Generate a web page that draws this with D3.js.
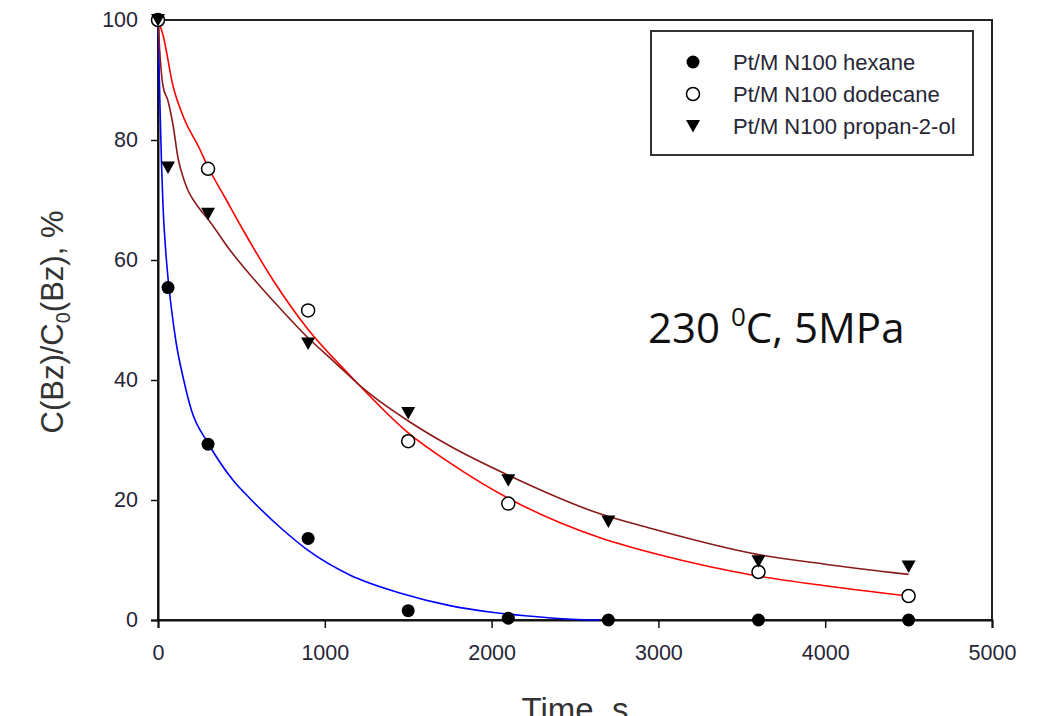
<!DOCTYPE html>
<html>
<head>
<meta charset="utf-8">
<script src="https://cdn.jsdelivr.net/npm/d3@7"></script>
<style>
  html, body { margin: 0; padding: 0; background: #fff; }
  svg { display: block; }
</style>
</head>
<body>
<svg id="chart" width="1039" height="716"></svg>
<script>
// Measured concentrations of benzene, % of initial, vs. time (s)
const hexaneTime     = [0, 60, 300, 900, 1500, 2100, 2700, 3600, 4500];
const hexaneConc     = [100, 55.4, 29.3, 13.6, 1.55, 0.3, 0, 0, 0];
const dodecaneTime   = [0, 300, 900, 1500, 2100, 3600, 4500];
const dodecaneConc   = [100, 75.2, 51.6, 29.8, 19.4, 8.0, 4.0];
const propanolTime   = [0, 60, 300, 900, 1500, 2100, 2700, 3600, 4500];
const propanolConc   = [100, 75.4, 67.7, 46.1, 34.5, 23.3, 16.4, 9.8, 8.9];

// Fitted kinetic curves, sampled along time
const hexaneFitTime  = [0, 10, 20, 30, 45, 60, 80, 110, 150, 200, 300, 450, 550, 750, 900, 1150, 1450, 1750, 2000, 2200, 2400, 2550, 2650];
const hexaneFitConc  = [100, 88, 77, 69, 62, 57, 52, 46, 40.5, 35, 29.5, 23.3, 20.3, 15, 11.6, 7.5, 4.5, 2.4, 1.3, 0.7, 0.25, 0.05, 0];
const dodecaneFitTime = [0, 30, 90, 150, 250, 300, 400, 500, 700, 900, 1150, 1500, 1750, 2100, 2650, 3000, 3600, 4000, 4500];
const dodecaneFitConc = [100, 97.5, 89, 84, 78.5, 75.5, 70.5, 65.5, 56.2, 48.4, 40.8, 31.2, 26.2, 20.3, 13.7, 10.9, 7.3, 5.7, 4.0];
const propanolFitTime = [0, 10, 30, 60, 90, 120, 160, 250, 300, 430, 600, 730, 890, 1050, 1230, 1510, 1750, 2110, 2650, 2950, 3600, 4000, 4500];
const propanolFitConc = [100, 95, 89, 86.5, 82.5, 77, 73, 68.5, 66.8, 61.7, 56, 52, 47.3, 43.2, 38.6, 33, 29, 24, 17.7, 15.3, 10.9, 9.3, 7.6];

const xTicks = [0, 1000, 2000, 3000, 4000, 5000];
const yTicks = [0, 20, 40, 60, 80, 100];
const legendLabels = ["Pt/M N100 hexane", "Pt/M N100 dodecane", "Pt/M N100 propan-2-ol"];

const svg = d3.select("#chart");
const plotLeft = 158, plotRight = 992, plotTop = 20, plotBottom = 620;

const x = d3.scaleLinear().domain([0, 5000]).range([plotLeft, plotRight]);
const y = d3.scaleLinear().domain([0, 100]).range([plotBottom, plotTop]);

const axisFont = "'Liberation Sans', Arial, sans-serif";

// frame
svg.append("rect")
  .attr("x", plotLeft).attr("y", plotTop)
  .attr("width", plotRight - plotLeft).attr("height", plotBottom - plotTop)
  .attr("fill", "none").attr("stroke", "#222").attr("stroke-width", 2);

// axes
const xAxis = svg.append("g")
  .attr("transform", `translate(0,${plotBottom})`)
  .call(d3.axisBottom(x).tickValues(xTicks).tickSize(8).tickPadding(17).tickFormat(d3.format("d")));
const yAxis = svg.append("g")
  .attr("transform", `translate(${plotLeft},0)`)
  .call(d3.axisLeft(y).tickValues(yTicks).tickSize(7).tickPadding(13).tickFormat(d3.format("d")));

[xAxis, yAxis].forEach(g => {
  g.select(".domain").attr("stroke", "#111").attr("stroke-width", 2);
  g.selectAll(".tick line").attr("stroke", "#111").attr("stroke-width", 1.5);
  g.selectAll(".tick text")
    .attr("font-family", axisFont)
    .attr("font-size", 21.5)
    .attr("fill", "#262636");
});

// axis titles
const yTitle = svg.append("text")
  .attr("transform", `translate(63,322) rotate(-90)`)
  .attr("text-anchor", "middle")
  .attr("font-family", axisFont)
  .attr("font-size", 31)
  .attr("fill", "#333");
yTitle.append("tspan").text("C(Bz)/C");
yTitle.append("tspan").attr("font-size", 20).attr("dy", 7).text("0");
yTitle.append("tspan").attr("dy", -7).text("(Bz), %");

svg.append("text")
  .attr("x", 575).attr("y", 721)
  .attr("text-anchor", "middle")
  .attr("font-family", axisFont)
  .attr("font-size", 33)
  .attr("fill", "#333")
  .text("Time, s");

// fitted curves
const line = d3.line()
  .x(d => x(d[0]))
  .y(d => y(d[1]))
  .curve(d3.curveMonotoneX);

const fits = [
  { t: hexaneFitTime, c: hexaneFitConc, color: "#0000ff" },
  { t: dodecaneFitTime, c: dodecaneFitConc, color: "#ff0000" },
  { t: propanolFitTime, c: propanolFitConc, color: "#8b1a1a" }
];
fits.forEach(f => {
  svg.append("path")
    .datum(f.t.map((t, i) => [t, f.c[i]]))
    .attr("d", line)
    .attr("fill", "none")
    .attr("stroke", f.color)
    .attr("stroke-width", 1.6);
});

// markers
const circleSym = d3.symbol().type(d3.symbolCircle).size(Math.PI * 6.5 * 6.5);
const triSym = "M-7,-6 L7,-6 L0,6.5 Z";

function drawMarker(g, kind, cx, cy) {
  if (kind === "filled") {
    g.append("path").attr("d", circleSym()).attr("transform", `translate(${cx},${cy})`)
      .attr("fill", "#000");
  } else if (kind === "open") {
    g.append("path").attr("d", circleSym()).attr("transform", `translate(${cx},${cy})`)
      .attr("fill", "#fff").attr("stroke", "#000").attr("stroke-width", 1.5);
  } else {
    g.append("path").attr("d", triSym).attr("transform", `translate(${cx},${cy})`)
      .attr("fill", "#000");
  }
}

const series = [
  { t: hexaneTime, c: hexaneConc, kind: "filled" },
  { t: dodecaneTime, c: dodecaneConc, kind: "open" },
  { t: propanolTime, c: propanolConc, kind: "tri" }
];
const markers = svg.append("g");
series.forEach(s => {
  s.t.forEach((t, i) => drawMarker(markers, s.kind, x(t), y(s.c[i])));
});

// legend
const lg = svg.append("g");
lg.append("rect")
  .attr("x", 651).attr("y", 31).attr("width", 322).attr("height", 124)
  .attr("fill", "#fff").attr("stroke", "#333").attr("stroke-width", 2);
const rowsY = [62, 94, 126];
series.forEach((s, i) => {
  drawMarker(lg, s.kind, 693, rowsY[i]);
  lg.append("text")
    .attr("x", 733).attr("y", rowsY[i] + 7.5)
    .attr("font-family", axisFont)
    .attr("font-size", 22)
    .attr("fill", "#262636")
    .text(legendLabels[i]);
});

// reaction conditions
const cond = svg.append("text")
  .attr("x", 648).attr("y", 343)
  .attr("font-family", "'Open Sans', 'Noto Sans', sans-serif")
  .attr("font-size", 42)
  .attr("fill", "#111");
cond.append("tspan").text("230 ");
cond.append("tspan").attr("font-size", 26).attr("dy", -17).text("0");
cond.append("tspan").attr("dy", 17).text("C, 5MPa");
</script>
</body>
</html>
